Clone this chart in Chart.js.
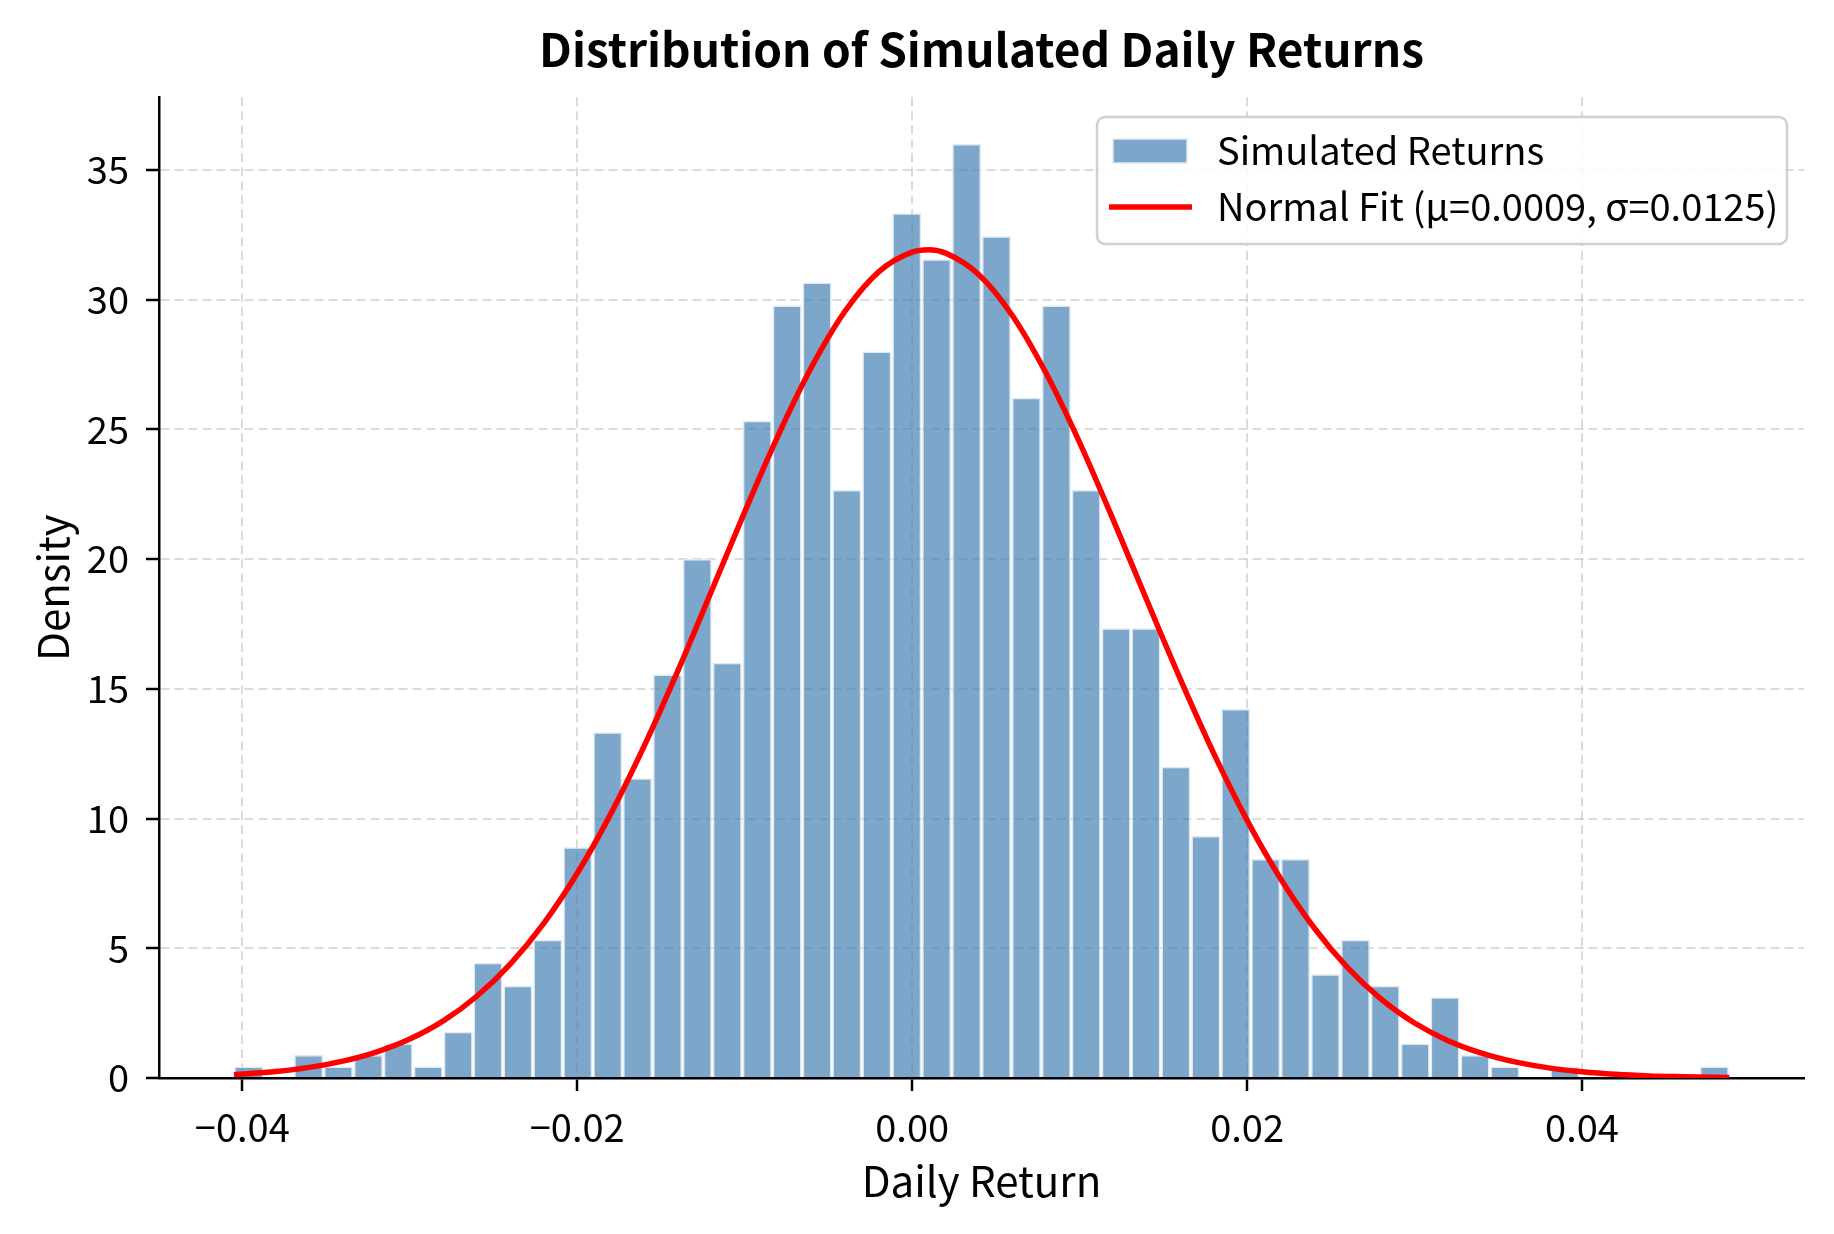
<!DOCTYPE html>
<html>
<head>
<meta charset="utf-8">
<script src="https://cdn.jsdelivr.net/npm/chart.js@4"></script>
<style>
  html, body { margin: 0; padding: 0; background: #ffffff; }
  #wrap { width: 1834px; height: 1234px; }
</style>
</head>
<body>
<div id="wrap"><canvas id="c" width="1834" height="1234"></canvas></div>
<script>
// ---- data ----
const chartTitle = 'Distribution of Simulated Daily Returns';
const xAxisTitle = 'Daily Return';
const yAxisTitle = 'Density';
const histLabel = 'Simulated Returns';
const fitLabel = 'Normal Fit (μ=0.0009, σ=0.0125)';

// histogram bin centres (50 bins)
const binCenters = [
  -0.03962, -0.03783, -0.03604, -0.03426, -0.03247, -0.03069, -0.02890, -0.02711, -0.02533, -0.02354,
  -0.02176, -0.01997, -0.01818, -0.01640, -0.01461, -0.01283, -0.01104, -0.00925, -0.00747, -0.00568,
  -0.00390, -0.00211, -0.00032, 0.00146, 0.00325, 0.00503, 0.00682, 0.00861, 0.01039, 0.01218,
  0.01396, 0.01575, 0.01754, 0.01932, 0.02111, 0.02289, 0.02468, 0.02647, 0.02825, 0.03004,
  0.03182, 0.03361, 0.03540, 0.03718, 0.03897, 0.04075, 0.04254, 0.04433, 0.04611, 0.04790
];
// histogram densities
const densities = [
  0.44, 0, 0.89, 0.44, 0.89, 1.33, 0.44, 1.78, 4.44, 3.56,
  5.33, 8.89, 13.33, 11.55, 15.55, 20.00, 16.00, 25.33, 29.77, 30.66,
  22.66, 28.00, 33.33, 31.55, 36.00, 32.44, 26.22, 29.77, 22.66, 17.33,
  17.33, 12.00, 9.33, 14.22, 8.44, 8.44, 4.00, 5.33, 3.56, 1.33,
  3.11, 0.89, 0.44, 0, 0.44, 0, 0, 0, 0, 0.44
];
// normal-fit curve
const curveX = [
  -0.0405, -0.038, -0.036, -0.034, -0.032, -0.030, -0.028, -0.026, -0.024, -0.022,
  -0.020, -0.018, -0.016, -0.014, -0.012, -0.010, -0.008, -0.006, -0.004, -0.002,
  0.000, 0.001, 0.002, 0.004, 0.006, 0.008, 0.010, 0.012, 0.014, 0.016,
  0.018, 0.020, 0.022, 0.024, 0.026, 0.028, 0.030, 0.032, 0.034, 0.036,
  0.038, 0.040, 0.042, 0.044, 0.046, 0.0488
];
const curveY = [
  0.13, 0.25, 0.41, 0.65, 1.00, 1.50, 2.20, 3.15, 4.39, 5.96,
  7.89, 10.18, 12.80, 15.68, 18.74, 21.82, 24.77, 27.41, 29.56, 31.07,
  31.83, 31.92, 31.79, 30.95, 29.37, 27.16, 24.49, 21.52, 18.43, 15.39,
  12.52, 9.93, 7.68, 5.79, 4.25, 3.04, 2.12, 1.44, 0.96, 0.62,
  0.39, 0.24, 0.14, 0.08, 0.05, 0.02
];
const xTickValues = [-0.04, -0.02, 0.00, 0.02, 0.04];
const xTickLabels = ['\u22120.04', '\u22120.02', '0.00', '0.02', '0.04'];
const yTickValues = [0, 5, 10, 15, 20, 25, 30, 35];
const yTickLabels = ['0', '5', '10', '15', '20', '25', '30', '35'];

// ---- styling ----
const FONT = '"Noto Sans CJK SC", "Source Sans Pro", "Noto Sans", sans-serif';
const barFill = 'rgba(70,130,180,0.7)';
const barEdge = 'rgba(222,233,243,1)';
const gridColor = 'rgba(176,176,176,0.45)';

const customLegend = {
  id: 'customLegend',
  afterDraw(chart) {
    const ctx = chart.ctx;
    const ds = chart.data.datasets;
    const bx = 1097, by = 117, bw = 690, bh = 127;
    ctx.save();
    ctx.beginPath();
    ctx.roundRect(bx, by, bw, bh, 8);
    ctx.fillStyle = 'rgba(255,255,255,0.85)';
    ctx.fill();
    ctx.lineWidth = 2.5;
    ctx.strokeStyle = '#d0d0d0';
    ctx.stroke();

    const histDs = ds.find(d => d.type === 'bar');
    const lineDs = ds.find(d => d.type === 'line');
    // row 1 : histogram patch
    ctx.fillStyle = histDs.backgroundColor;
    ctx.fillRect(1113, 139, 74, 24);
    ctx.lineWidth = 1.5;
    ctx.strokeStyle = barEdge;
    ctx.strokeRect(1113, 139, 74, 24);
    // row 2 : line
    ctx.beginPath();
    ctx.moveTo(1109, 207);
    ctx.lineTo(1192, 207);
    ctx.lineWidth = lineDs.borderWidth;
    ctx.strokeStyle = lineDs.borderColor;
    ctx.stroke();

    ctx.fillStyle = '#000';
    ctx.font = '38px ' + FONT;
    ctx.textBaseline = 'middle';
    ctx.textAlign = 'left';
    ctx.fillText(histDs.label, 1217, 151);
    ctx.fillText(lineDs.label, 1217, 207);
    ctx.restore();
  }
};

function draw() {
  new Chart(document.getElementById('c'), {
    data: {
      datasets: [
        {
          type: 'line',
          label: fitLabel,
          data: curveX.map((x, i) => ({ x: x, y: curveY[i] })),
          borderColor: '#ff0000',
          borderWidth: 5.5,
          pointRadius: 0,
          cubicInterpolationMode: 'monotone',
          fill: false,
          order: 0
        },
        {
          type: 'bar',
          label: histLabel,
          data: binCenters.map((x, i) => ({ x: x, y: densities[i] })),
          backgroundColor: barFill,
          borderColor: barEdge,
          borderWidth: 1.5,
          borderSkipped: 'start',
          barPercentage: 0.97,
          categoryPercentage: 1.0,
          order: 1
        }
      ]
    },
    options: {
      responsive: false,
      animation: false,
      devicePixelRatio: 1,
      layout: { padding: { left: 0, right: 30, top: 0, bottom: 0 } },
      plugins: {
        legend: { display: false },
        tooltip: { enabled: false },
        title: {
          display: true,
          fullSize: false,
          text: chartTitle,
          color: '#000',
          font: { family: FONT, size: 46, weight: 'bold', lineHeight: 1.2 },
          padding: { top: 22, bottom: 20 }
        }
      },
      scales: {
        x: {
          type: 'linear',
          offset: false,
          min: -0.044975,
          max: 0.053255,
          afterBuildTicks: s => { s.ticks = xTickValues.map(v => ({ value: v })); },
          afterFit: s => { s.height = 156; },
          ticks: {
            callback: (v, i) => xTickLabels[i],
            color: '#000',
            font: { family: FONT, size: 38 },
            padding: 14,
            maxRotation: 0,
            autoSkip: false
          },
          grid: {
            offset: false,
            color: gridColor,
            lineWidth: 2,
            tickLength: 13,
            tickColor: '#000',
            tickWidth: 2.5,
            drawTicks: true
          },
          border: { display: true, color: '#000', width: 2.5, dash: [9, 5] },
          title: {
            display: true,
            text: xAxisTitle,
            color: '#000',
            font: { family: FONT, size: 42, lineHeight: 1.2 },
            padding: { top: 0, bottom: 28 }
          }
        },
        y: {
          type: 'linear',
          min: 0,
          max: 37.8,
          afterBuildTicks: s => { s.ticks = yTickValues.map(v => ({ value: v })); },
          afterFit: s => { s.width = 159; },
          ticks: {
            callback: (v, i) => yTickLabels[i],
            color: '#000',
            font: { family: FONT, size: 38 },
            padding: 17
          },
          grid: {
            color: gridColor,
            lineWidth: 2,
            tickLength: 13,
            tickColor: '#000',
            tickWidth: 2.5,
            drawTicks: true
          },
          border: { display: true, color: '#000', width: 2.5, dash: [9, 5] },
          title: {
            display: true,
            text: yAxisTitle,
            color: '#000',
            font: { family: FONT, size: 42, lineHeight: 1.2 },
            padding: { top: 28, bottom: 0 }
          }
        }
      }
    },
    plugins: [customLegend]
  });
}

if (document.fonts && document.fonts.load) {
  Promise.all([
    document.fonts.load('38px "Noto Sans CJK SC"'),
    document.fonts.load('bold 46px "Noto Sans CJK SC"')
  ]).then(draw, draw);
} else {
  draw();
}
</script>
</body>
</html>
